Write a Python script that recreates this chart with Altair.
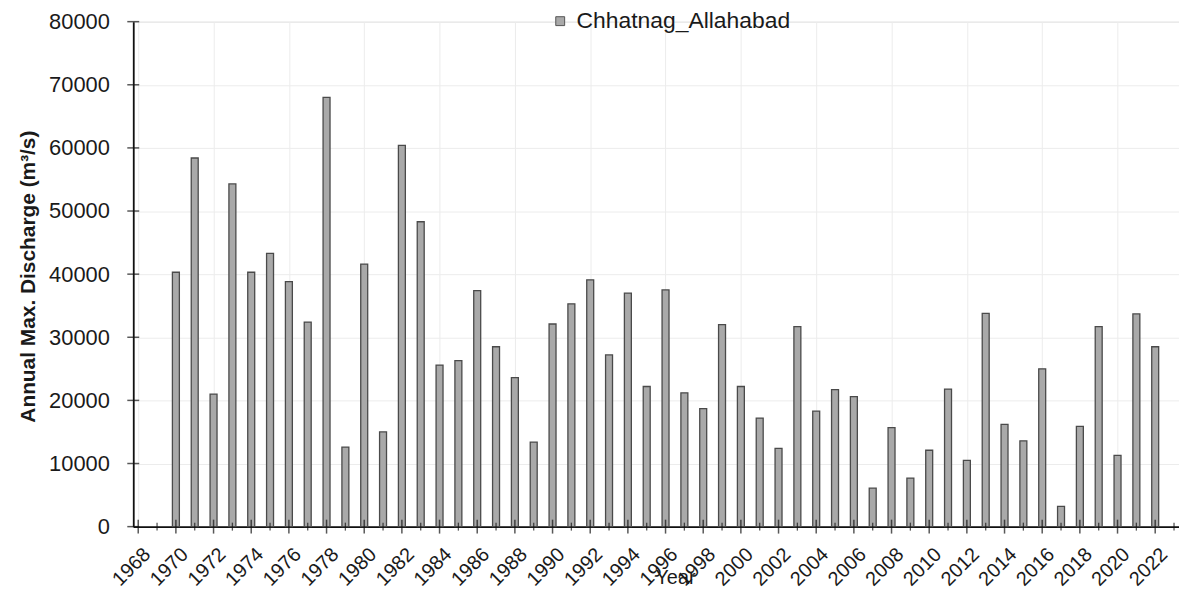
import altair as alt
import pandas as pd

# ---- data ----
years = list(range(1970, 2023))
discharge = [40300, 58400, 21000, 54300, 40300, 43300, 38800, 32400, 68000, 12600,
             41600, 15000, 60400, 48300, 25600, 26300, 37400, 28500, 23600, 13400,
             32100, 35300, 39100, 27200, 37000, 22200, 37500, 21200, 18700, 32000,
             22200, 17200, 12400, 31700, 18300, 21700, 20600, 6100, 15700, 7700,
             12100, 21800, 10500, 33800, 16200, 13600, 25000, 3200, 15900, 31700,
             11300, 33700, 28500]
series_name = "Chhatnag_Allahabad"
x_tick_years = list(range(1968, 2024))
x_label_years = list(range(1968, 2023, 2))
y_tick_values = list(range(0, 80001, 10000))

FONT = "Liberation Sans"
W, H = 1052, 508

df = pd.DataFrame({"year": years, "q": discharge, "series": series_name})
major = pd.DataFrame({"year": [y for y in x_tick_years if y % 2 == 0]})
minor = pd.DataFrame({"year": [y for y in x_tick_years if y % 2 == 1]})
xlab = pd.DataFrame({"year": x_label_years, "txt": [str(y) for y in x_label_years]})
yt = pd.DataFrame({"v": y_tick_values})

xscale = alt.Scale(domain=[1968, 2023], nice=False, zero=False)
yscale = alt.Scale(domain=[0, 80000], nice=False)

bars = alt.Chart(df).mark_bar(size=7, stroke="#4a4a4a", strokeWidth=1.3).encode(
    x=alt.X("year:Q", scale=xscale,
            axis=alt.Axis(values=x_tick_years, labels=False, ticks=False,
                          domainColor="#111111", domainWidth=1.6,
                          grid=True, gridColor="#ececec", gridWidth=1,
                          title="Year", titleFont=FONT, titleFontSize=20,
                          titleFontWeight="normal", titleColor="#1a1a1a",
                          titleX=545, titleY=51, titleAlign="center",
                          titleBaseline="middle")),
    y=alt.Y("q:Q", scale=yscale,
            axis=alt.Axis(values=y_tick_values, format="d",
                          labelFontSize=22, labelFont=FONT, labelColor="#1a1a1a",
                          labelPadding=24, tickSize=0,
                          domainColor="#111111", domainWidth=1.8,
                          grid=True, gridColor="#ececec", gridWidth=1,
                          title="Annual Max. Discharge (m³/s)", titleFont=FONT,
                          titleFontSize=21, titleFontWeight="bold",
                          titleColor="#1a1a1a", titleX=-105, titleY=256,
                          titleBaseline="middle", titleAlign="center")),
    color=alt.Color("series:N", scale=alt.Scale(range=["#a9a9a9"]), title=None,
                    legend=alt.Legend(orient="none", legendX=418, legendY=-12,
                                      symbolType="square", symbolSize=80,
                                      symbolStrokeColor="#555555",
                                      symbolStrokeWidth=1, labelFont=FONT,
                                      labelFontSize=23, labelColor="#1a1a1a",
                                      labelLimit=0, labelOffset=5, padding=0)),
)

x_labels = alt.Chart(xlab).mark_text(
    angle=315, align="right", baseline="top", fontSize=20, font=FONT,
    color="#1a1a1a", dx=3).encode(
    x=alt.X("year:Q", scale=xscale), y=alt.value(H + 20), text="txt:N")

major_ticks = alt.Chart(major).mark_tick(color="#111111", thickness=1.5, size=14).encode(
    x=alt.X("year:Q", scale=xscale), y=alt.value(H))
minor_ticks = alt.Chart(minor).mark_tick(color="#111111", thickness=1.3, size=8).encode(
    x=alt.X("year:Q", scale=xscale), y=alt.value(H))
y_ticks = alt.Chart(yt).mark_tick(color="#111111", thickness=1.5, size=12).encode(
    y=alt.Y("v:Q", scale=yscale), x=alt.value(0))

chart = alt.layer(bars, major_ticks, minor_ticks, y_ticks, x_labels).properties(
    width=W, height=H,
    autosize=alt.AutoSizeParams(type="none"),
    padding={"left": 126, "top": 12, "right": 0, "bottom": 61},
).configure_view(stroke=None).configure(font=FONT, background="white")

chart.save("out.html", embed_options={"renderer": "svg", "actions": False})
